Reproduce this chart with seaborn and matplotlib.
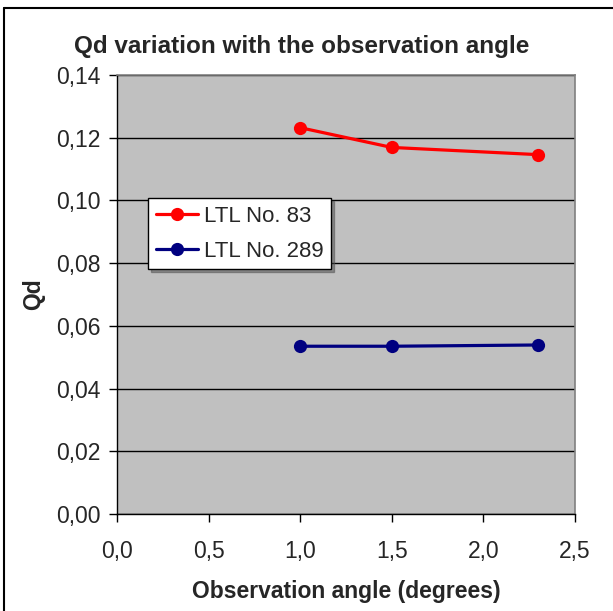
import matplotlib
matplotlib.use("Agg")
import matplotlib.pyplot as plt
import seaborn as sns
import pandas as pd
from matplotlib.ticker import FuncFormatter, MultipleLocator
from matplotlib.lines import Line2D

angles = [1.0, 1.5, 2.3]
ltl83 = [0.1232, 0.1169, 0.1146]
ltl289 = [0.0535, 0.0535, 0.0539]
series_names = ["LTL No. 83", "LTL No. 289"]
colors = ["#FF0000", "#000080"]

df = pd.DataFrame({
    "angle": angles * 2,
    "Qd": ltl83 + ltl289,
    "series": [series_names[0]] * 3 + [series_names[1]] * 3,
})

sns.set_style("white")
plt.rcParams["font.family"] = ["Liberation Sans", "DejaVu Sans"]

fig = plt.figure(figsize=(6.13, 6.11), dpi=100)
ax = fig.add_axes([117/613, 1 - 514/611, (575-117)/613, (514-75)/611])
ax.set_facecolor("#C0C0C0")

sns.lineplot(data=df, x="angle", y="Qd", hue="series", palette=colors,
             marker="o", markersize=9.5, markeredgewidth=0, linewidth=2.3,
             ax=ax, legend=False, sort=False)

ax.set_xlim(0, 2.5)
ax.set_ylim(0, 0.14)
ax.xaxis.set_major_locator(MultipleLocator(0.5))
ax.yaxis.set_major_locator(MultipleLocator(0.02))
ax.xaxis.set_major_formatter(FuncFormatter(lambda v, p: f"{v:.1f}".replace(".", ",")))
ax.yaxis.set_major_formatter(FuncFormatter(lambda v, p: f"{v:.2f}".replace(".", ",")))
ax.grid(axis="y", color="black", linewidth=1)
ax.set_axisbelow(True)

for s in ["top", "right"]:
    ax.spines[s].set_color("#808080")
    ax.spines[s].set_linewidth(1.2)
for s in ["left", "bottom"]:
    ax.spines[s].set_color("black")
    ax.spines[s].set_linewidth(1.0)

ax.tick_params(axis="both", direction="out", length=6, width=1, color="black",
               labelsize=16.5, left=True, bottom=True)
ax.tick_params(axis="y", pad=6)
ax.tick_params(axis="x", pad=13)

ax.set_xlabel("Observation angle (degrees)", fontsize=16.5, fontweight="bold", labelpad=12)
ax.set_ylabel("Qd", fontsize=16.5, fontweight="bold", labelpad=8)
fig.text(302/613, 1 - 46/611, "Qd variation with the observation angle",
         fontsize=17.5, fontweight="bold", ha="center", va="center")

handles = [Line2D([], [], color=c, marker="o", markersize=9.5, markeredgewidth=0, linewidth=2.3)
           for c in colors]
leg = fig.legend(handles, series_names, loc="upper left",
                 bbox_to_anchor=(148/613, 1 - 198/611), fontsize=16,
                 frameon=True, fancybox=False, shadow=True, edgecolor="black",
                 framealpha=1, handlelength=1.9, borderpad=0.35, labelspacing=0.62,
                 handletextpad=0.25, borderaxespad=0)
leg.get_frame().set_linewidth(1.0)

# outer chart border (top and left visible)
fig.add_artist(Line2D([4/613, 4/613], [0, 1 - 8/611], color="black", linewidth=1.5,
                      transform=fig.transFigure))
fig.add_artist(Line2D([4/613, 1], [1 - 8/611, 1 - 8/611], color="black", linewidth=1.5,
                      transform=fig.transFigure))

fig.savefig("out.png", dpi=100)
